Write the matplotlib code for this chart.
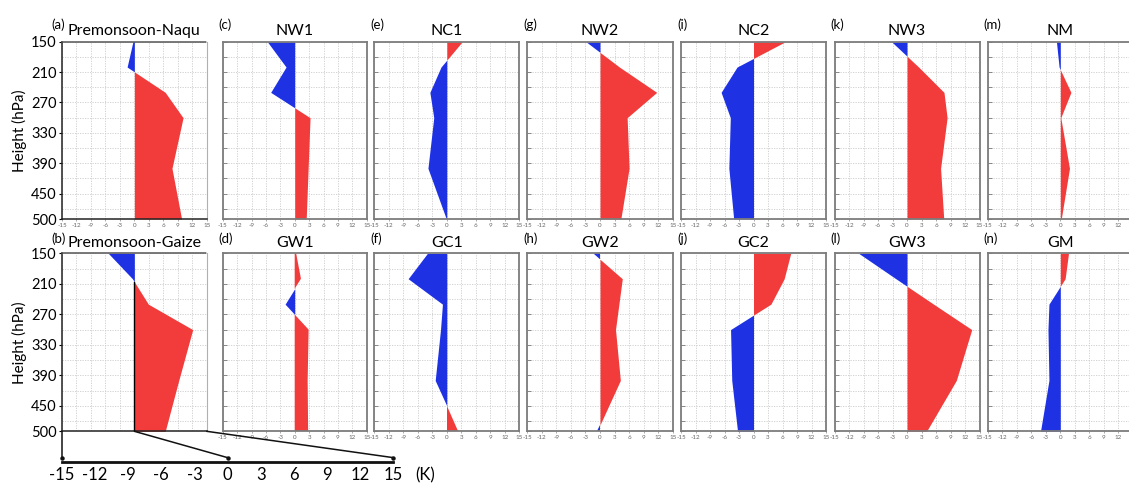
import numpy as np
import matplotlib
matplotlib.use("Agg")
import matplotlib.pyplot as plt
from matplotlib.patches import ConnectionPatch

plt.rcParams["font.family"] = ["Lato", "DejaVu Sans"]

# Pressure levels (hPa) and temperature anomalies (K)
levels = [150, 200, 250, 300, 400, 500]

naqu = [-0.3, -1.5, 6.4, 10.1, 7.8, 9.8]
gaize = [-5.4, -0.4, 2.9, 12.1, 9.2, 6.4]
nw1 = [-5.7, -1.8, -5.0, 3.2, 2.8, 2.4]
gw1 = [0.3, 1.3, -2.0, 2.9, 2.7, 2.8]
nc1 = [3.2, -1.2, -3.5, -2.7, -3.9, -0.1]
gc1 = [-4.0, -8.0, -0.9, -1.3, -2.4, 2.4]
nw2 = [-2.9, 4.0, 11.7, 5.6, 6.0, 4.3]
gw2 = [-1.4, 4.6, 3.9, 3.2, 4.2, -0.6]
nc2 = [6.6, -3.4, -6.7, -4.8, -5.1, -4.1]
gc2 = [7.7, 6.35, 3.6, -4.75, -4.5, -3.3]
nw3 = [-3.2, 2.4, 7.65, 8.3, 6.95, 7.6]
gw3 = [-10.0, -2.3, 5.5, 13.4, 10.2, 4.05]
nm = [-0.8, -0.25, 2.2, 0.1, 1.9, 0.2]
gm = [1.7, 1.0, -2.35, -2.55, -2.35, -4.1]

top_titles = ["Premonsoon-Naqu", "NW1", "NC1", "NW2", "NC2", "NW3", "NM"]
bottom_titles = ["Premonsoon-Gaize", "GW1", "GC1", "GW2", "GC2", "GW3", "GM"]
top_letters = ["(a)", "(c)", "(e)", "(g)", "(i)", "(k)", "(m)"]
bottom_letters = ["(b)", "(d)", "(f)", "(h)", "(j)", "(l)", "(n)"]
top_series = [naqu, nw1, nc1, nw2, nc2, nw3, nm]
bottom_series = [gaize, gw1, gc1, gw2, gc2, gw3, gm]

x_ticks = list(range(-15, 16, 3))
x_ticklabels = [str(t) for t in x_ticks]
y_ticks = [150, 210, 270, 330, 390, 450, 500]
y_minor = [180, 240, 300, 360, 420, 480]

RED = "#f23c3c"
BLUE = "#1e32e4"

W, H = 1129, 483
fig = plt.figure(figsize=(W / 100, H / 100), dpi=100)


def px_axes(x0, y0, w, h):
    return fig.add_axes([x0 / W, 1 - (y0 + h) / H, w / W, h / H])


lefts = [62, 222.7, 374.3, 527.3, 681, 834.5, 987.8]
widths = [144.7, 144, 145, 145.4, 145, 145, 145]
rows = [(41.7, 177.3), (253.3, 178.0)]


def draw_profile(ax, vals, first):
    v = np.asarray(vals, dtype=float)
    y = np.asarray(levels, dtype=float)
    ax.fill_betweenx(y, 0, v, where=v >= 0, interpolate=True, color=RED, lw=0)
    ax.fill_betweenx(y, 0, v, where=v <= 0, interpolate=True, color=BLUE, lw=0)
    ax.set_xlim(-15, 15)
    ax.set_ylim(500, 150)
    ax.set_xticks(x_ticks)
    ax.set_xticklabels(x_ticklabels)
    ax.set_yticks(y_ticks)
    ax.set_yticks(y_minor, minor=True)
    ax.grid(True, which="both", color="#cccccc", lw=0.6, ls=(0, (1.5, 1.5)))
    ax.set_axisbelow(True)
    ax.tick_params(axis="x", labelsize=4.5, labelcolor="#666666", length=1.5,
                   width=0.5, color="#888888", pad=1.5)
    ax.tick_params(axis="x", which="minor", length=0)
    if first:
        ax.tick_params(axis="y", which="major", labelsize=10.5, length=2.5,
                       direction="out", pad=1.5)
        ax.tick_params(axis="y", which="minor", length=0)
        ax.set_ylabel("Height (hPa)", fontsize=11, labelpad=3)
        for s in ("left", "bottom"):
            ax.spines[s].set_color("#222222")
            ax.spines[s].set_linewidth(1.1)
        ax.spines["top"].set_color("#555555")
        ax.spines["top"].set_linestyle((0, (1.5, 1.0)))
        ax.spines["top"].set_linewidth(1.1)
        ax.spines["right"].set_color("#b0b0b0")
        ax.spines["right"].set_linewidth(0.8)
    else:
        ax.tick_params(axis="y", which="both", labelleft=False, length=3,
                       direction="in", width=0.6, color="#777777")
        for s in ax.spines.values():
            s.set_color("#7c7c7c")
            s.set_linewidth(1.3)


axes_rows = []
for r, (y0, h) in enumerate(rows):
    titles = top_titles if r == 0 else bottom_titles
    letters = top_letters if r == 0 else bottom_letters
    series = top_series if r == 0 else bottom_series
    row_axes = []
    for i in range(7):
        ax = px_axes(lefts[i], y0, widths[i], h)
        draw_profile(ax, series[i], i == 0)
        ax.set_title(titles[i], fontsize=11.5, pad=4.5)
        lx = -0.075 if i == 0 else -0.028
        ly = 1.07 if r == 0 else 1.06
        ax.text(lx, ly, letters[i], transform=ax.transAxes, fontsize=9.5,
                ha="left", va="baseline")
        row_axes.append(ax)
    axes_rows.append(row_axes)

# The last column runs past the right edge of the figure; drop its outermost label
for row_axes in axes_rows:
    row_axes[-1].set_xticklabels(x_ticklabels[:-1] + [""])

ax_b = axes_rows[1][0]
ax_b.tick_params(axis="x", labelbottom=False, length=0)

# Zero line along the warm part of the Gaize profile
g = np.asarray(gaize, dtype=float)
idx = [k for k in range(len(g) - 1) if g[k] < 0 <= g[k + 1]][-1]
cross = levels[idx] + (levels[idx + 1] - levels[idx]) * (-g[idx]) / (g[idx + 1] - g[idx])
ax_b.plot([0, 0], [cross, levels[-1]], color="black", lw=1.0, zorder=3)

# Enlarged temperature scale under panel (b)
ax_k = px_axes(62, 450, 331, 11.7)
ax_k.set_xlim(-15, 15)
ax_k.set_ylim(0, 1)
ax_k.patch.set_alpha(0)
for s in ("top", "left", "right"):
    ax_k.spines[s].set_visible(False)
ax_k.spines["bottom"].set_linewidth(2.0)
ax_k.spines["bottom"].set_color("#111111")
ax_k.set_yticks([])
ax_k.set_xticks(x_ticks)
ax_k.set_xticklabels(x_ticklabels)
ax_k.tick_params(axis="x", length=0, labelsize=12, pad=3.5)
fig.text(425 / W, 1 - 480 / H, "(K)", fontsize=12, ha="center", va="baseline")

for xv in (-15, 0, 15):
    con = ConnectionPatch(xyA=(xv, 500), coordsA=ax_b.transData,
                          xyB=(xv, 0.35), coordsB=ax_k.transData,
                          color="#111111", lw=1.1, zorder=10)
    fig.add_artist(con)
    ax_k.plot([xv], [0.35], marker="o", ms=2.2, color="#111111",
              clip_on=False, zorder=10)

fig.savefig("out.png", dpi=100)
